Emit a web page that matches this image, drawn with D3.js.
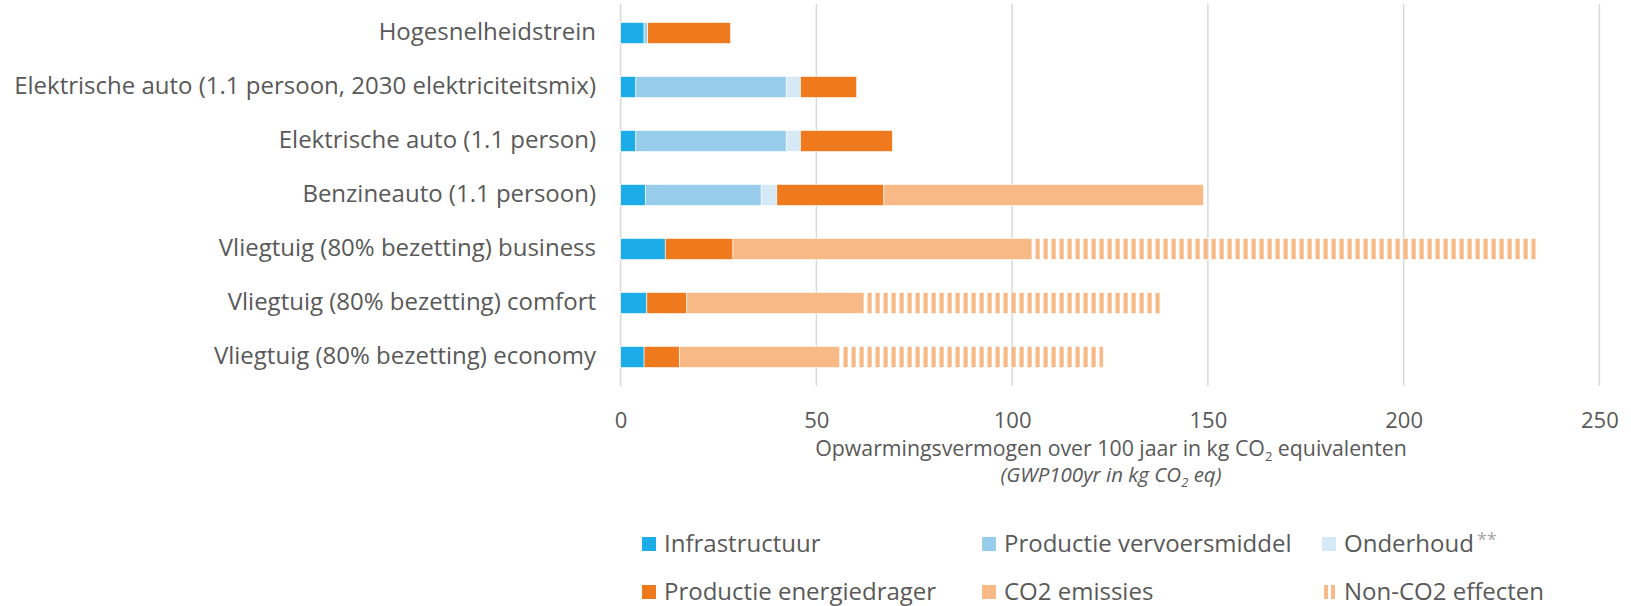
<!DOCTYPE html>
<html>
<head>
<meta charset="utf-8">
<script src="https://cdn.jsdelivr.net/npm/d3@7"></script>
<style>
  body { margin: 0; background: white; }
  text { font-family: "Open Sans", sans-serif; fill: #595959; }
  .gridline { stroke: #d9d9d9; stroke-width: 1.5; }
</style>
</head>
<body>
<div id="chart"></div>
<script>
// categories, top to bottom
var categories = [
  "Hogesnelheidstrein",
  "Elektrische auto (1.1 persoon, 2030 elektriciteitsmix)",
  "Elektrische auto (1.1 person)",
  "Benzineauto (1.1 persoon)",
  "Vliegtuig (80% bezetting) business",
  "Vliegtuig (80% bezetting) comfort",
  "Vliegtuig (80% bezetting) economy"
];

// kg CO2 eq per segment
var infrastructuur = [6.0, 3.9, 3.9, 6.3, 11.4, 6.7, 6.0];
var productieVervoer = [0.9, 38.4, 38.4, 29.6, 0, 0, 0];
var onderhoud = [0, 3.65, 3.65, 4.0, 0, 0, 0];
var productieEnergie = [21.2, 14.35, 23.45, 27.35, 17.3, 10.2, 9.1];
var co2Emissies = [0, 0, 0, 81.65, 76.4, 45.3, 40.9];
var nonCo2 = [0, 0, 0, 0, 128.7, 75.6, 67.3];

var xTicks = [0, 50, 100, 150, 200, 250];

var series = [
  { key: "infra", label: "Infrastructuur", values: infrastructuur, color: "#1cace8" },
  { key: "prod", label: "Productie vervoersmiddel", values: productieVervoer, color: "#97cdeb" },
  { key: "onderhoud", label: "Onderhoud", values: onderhoud, color: "#d5e9f6" },
  { key: "energie", label: "Productie energiedrager", values: productieEnergie, color: "#ee7a1d" },
  { key: "co2", label: "CO2 emissies", values: co2Emissies, color: "#f7b985" },
  { key: "nonco2", label: "Non-CO2 effecten", values: nonCo2, color: "url(#stripes)" }
];

var width = 1631, height = 606;

var svg = d3.select("#chart").append("svg")
  .attr("width", width)
  .attr("height", height);

var defs = svg.append("defs");
var pat = defs.append("pattern")
  .attr("id", "stripes")
  .attr("patternUnits", "userSpaceOnUse")
  .attr("width", 8)
  .attr("height", 10);
pat.append("rect")
  .attr("x", 3.5).attr("y", 0)
  .attr("width", 4.2).attr("height", 10)
  .attr("fill", "#f7b985");

var table = categories.map(function (c, i) {
  var row = { cat: c };
  series.forEach(function (s) { row[s.key] = s.values[i]; });
  return row;
});

var stacked = d3.stack().keys(series.map(s => s.key))(table);

var x = d3.scaleLinear()
  .domain([0, 250])
  .range([620.6, 1599.4]);

var y = d3.scaleBand()
  .domain(categories)
  .range([6, 384])
  .paddingInner(0.61)
  .paddingOuter(0.305);

// gridlines
svg.append("g")
  .selectAll("line")
  .data(xTicks)
  .enter().append("line")
  .attr("class", "gridline")
  .attr("x1", d => x(d))
  .attr("x2", d => x(d))
  .attr("y1", 4)
  .attr("y2", 386);

// bars
svg.append("g")
  .selectAll("g")
  .data(stacked)
  .enter().append("g")
  .attr("fill", (d, i) => series[i].color)
  .selectAll("rect")
  .data(d => d.filter(p => p[1] - p[0] > 0))
  .enter().append("rect")
  .attr("x", d => x(d[0]))
  .attr("width", d => x(d[1]) - x(d[0]))
  .attr("y", d => y(d.data.cat))
  .attr("height", y.bandwidth())
  .attr("stroke", "white")
  .attr("stroke-width", 0.6);

// category labels
var yAxis = svg.append("g")
  .attr("transform", "translate(620,0)")
  .call(d3.axisLeft(y).tickSize(0).tickPadding(24));
yAxis.select(".domain").remove();
yAxis.selectAll("text")
  .style("font-size", "24px")
  .attr("dy", "0.3em")
  .style("fill", "#595959");

// value axis labels
var xAxis = svg.append("g")
  .attr("transform", "translate(0,400)")
  .call(d3.axisBottom(x).tickValues(xTicks).tickSize(0).tickPadding(12));
xAxis.select(".domain").remove();
xAxis.selectAll("text")
  .style("font-size", "22px")
  .style("fill", "#595959");

// axis title
var title = svg.append("text")
  .attr("x", 1111)
  .attr("y", 456)
  .attr("text-anchor", "middle")
  .style("font-size", "21.3px");
title.append("tspan").text("Opwarmingsvermogen over 100 jaar in kg CO");
title.append("tspan").attr("dy", 5).style("font-size", "13px").text("2");
title.append("tspan").attr("dy", -5).text(" equivalenten");

var sub = svg.append("text")
  .attr("x", 1111)
  .attr("y", 482)
  .attr("text-anchor", "middle")
  .style("font-size", "20.5px")
  .style("font-style", "italic");
sub.append("tspan").text("(GWP100yr in kg CO");
sub.append("tspan").attr("dy", 5).style("font-size", "13px").text("2");
sub.append("tspan").attr("dy", -5).text(" eq)");

// legend
var legendX = [642, 982, 1322];
var legendY = [544, 592];

var legend = svg.append("g")
  .selectAll("g")
  .data(series)
  .enter().append("g")
  .attr("transform", (d, i) => "translate(" + legendX[i % 3] + "," + legendY[Math.floor(i / 3)] + ")");

legend.each(function (d) {
  var g = d3.select(this);
  if (d.key == "nonco2") {
    g.append("rect").attr("x", 2).attr("y", -7).attr("width", 4).attr("height", 14).attr("fill", "#f7b985");
    g.append("rect").attr("x", 9).attr("y", -7).attr("width", 4).attr("height", 14).attr("fill", "#f7b985");
  } else {
    g.append("rect").attr("x", 0).attr("y", -7).attr("width", 14).attr("height", 14).attr("fill", d.color);
  }
  var t = g.append("text")
    .attr("x", 22)
    .attr("y", 8)
    .style("font-size", "24px");
  t.append("tspan").text(d.label);
  if (d.key == "onderhoud") {
    t.append("tspan").attr("dx", 3).attr("dy", -6).style("font-size", "18px").style("fill", "#a6a6a6").text("**");
  }
});
</script>
</body>
</html>
